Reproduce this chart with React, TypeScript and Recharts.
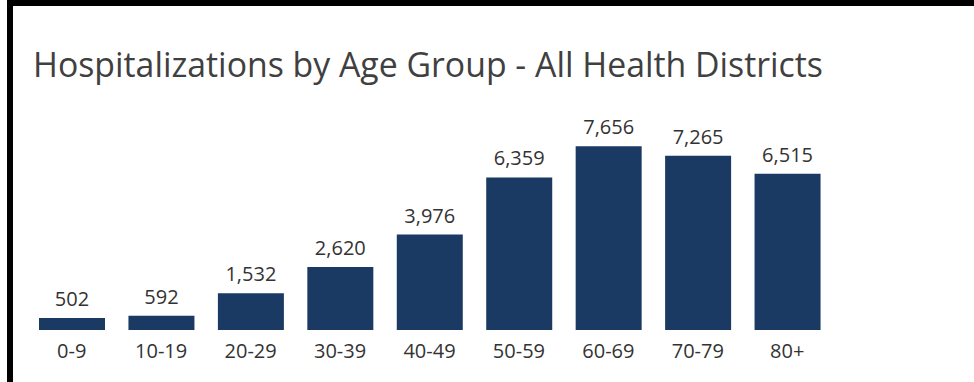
import React from "react";
import { BarChart, Bar, XAxis, YAxis, LabelList } from "recharts";

const ageGroups = ["0-9", "10-19", "20-29", "30-39", "40-49", "50-59", "60-69", "70-79", "80+"];
const hospitalizations = [502, 592, 1532, 2620, 3976, 6359, 7656, 7265, 6515];
const titleText = "Hospitalizations by Age Group - All Health Districts";

const data = ageGroups.map((g, i) => ({ group: g, value: hospitalizations[i] }));

const FONT = "'Open Sans', 'Noto Sans', sans-serif";

export default function App() {
  return (
    <div style={{ position: "fixed", left: 0, top: 0, width: 974, height: 382, background: "#fff", overflow: "hidden" }}>
      <div
        style={{
          position: "absolute",
          left: 7,
          top: 0,
          width: 967,
          height: 382,
          borderTop: "6px solid #000",
          borderLeft: "6px solid #000",
          boxSizing: "border-box",
        }}
      />
      <div
        style={{
          position: "absolute",
          left: 33,
          top: 44,
          fontFamily: FONT,
          fontSize: 33.8,
          color: "#404040",
          whiteSpace: "nowrap",
          lineHeight: "40px",
        }}
      >
        {titleText}
      </div>
      <div style={{ position: "absolute", left: 0, top: 0 }}>
        <BarChart
          width={974}
          height={382}
          data={data}
          margin={{ top: 138, right: 142, left: 27, bottom: 0 }}
        >
          <XAxis
            dataKey="group"
            axisLine={false}
            tickLine={false}
            height={52}
            tickMargin={8}
            interval={0}
            tick={{ fill: "#333333", fontSize: 20, fontFamily: FONT }}
          />
          <YAxis hide domain={[0, 8000]} />
          <Bar dataKey="value" fill="#1a3a63" barSize={66} isAnimationActive={false}>
            <LabelList
              dataKey="value"
              position="top"
              offset={12}
              formatter={(v: number) => v.toLocaleString("en-US")}
              style={{ fill: "#333333", fontSize: 20, fontFamily: FONT }}
            />
          </Bar>
        </BarChart>
      </div>
    </div>
  );
}
